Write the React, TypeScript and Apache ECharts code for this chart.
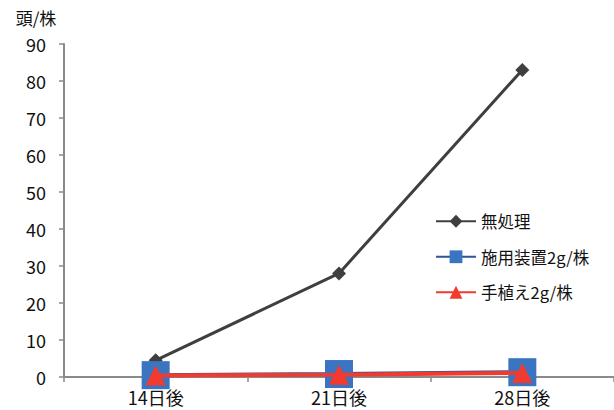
import React, { useEffect, useRef } from "react";
import * as echarts from "echarts";

const categories = ["14日後", "21日後", "28日後"];
const untreated = [4.5, 28, 83];
const device = [0.5, 0.8, 1.3];
const handPlant = [0.4, 0.6, 1.1];
const seriesNames = ["無処理", "施用装置2g/株", "手植え2g/株"];
const yTicks = { min: 0, max: 90, interval: 10 };
const yUnit = "頭/株";

const FONT = "'Noto Sans CJK JP', 'Noto Sans', sans-serif";

export default function App() {
  const ref = useRef<HTMLDivElement>(null);
  useEffect(() => {
    const chart = echarts.init(ref.current!, null, { renderer: "svg" });
    chart.setOption({
      animation: false,
      backgroundColor: "#ffffff",
      textStyle: { fontFamily: FONT },
      grid: { left: 64, top: 44, bottom: 33, right: -6, containLabel: false },
      legend: {
        orient: "vertical",
        left: 430,
        top: 208,
        itemWidth: 40,
        itemHeight: 16,
        itemGap: 19,
        textStyle: { fontSize: 16.5, color: "#111", fontFamily: FONT },
        data: seriesNames,
      },
      xAxis: {
        type: "category",
        data: categories,
        boundaryGap: true,
        axisLine: { lineStyle: { color: "#8a8a8a", width: 2 } },
        axisTick: { show: true, length: 5, lineStyle: { color: "#8a8a8a", width: 1.5 } },
        axisLabel: { fontSize: 18, color: "#111", margin: 11, fontFamily: FONT },
      },
      yAxis: {
        type: "value",
        min: yTicks.min,
        max: yTicks.max,
        interval: yTicks.interval,
        name: yUnit,
        nameLocation: "end",
        nameGap: 18,
        nameTextStyle: { fontSize: 17, color: "#111", align: "center", padding: [0, 0, 0, -56], fontFamily: FONT },
        axisLine: { show: true, lineStyle: { color: "#8a8a8a", width: 2 } },
        axisTick: { show: true, length: 5, lineStyle: { color: "#8a8a8a", width: 1.5 } },
        splitLine: { show: false },
        axisLabel: { fontSize: 18, color: "#111", margin: 18, fontFamily: FONT },
      },
      series: [
        {
          name: seriesNames[0],
          type: "line",
          data: untreated,
          symbol: "diamond",
          symbolSize: 14,
          itemStyle: { color: "#3f3f3f" },
          lineStyle: { color: "#3f3f3f", width: 3 },
          z: 2,
        },
        {
          name: seriesNames[1],
          type: "line",
          data: device,
          symbol: "rect",
          symbolSize: 28,
          itemStyle: { color: "#3b74c0" },
          lineStyle: { color: "#2f5597", width: 4 },
          z: 3,
        },
        {
          name: seriesNames[2],
          type: "line",
          data: handPlant,
          symbol: "triangle",
          symbolSize: 20,
          itemStyle: { color: "#f23a2e" },
          lineStyle: { color: "#f23a2e", width: 4 },
          z: 4,
        },
      ],
    });
    return () => chart.dispose();
  }, []);
  return <div ref={ref} style={{ width: 614, height: 410, position: "absolute", left: 0, top: 0 }} />;
}
